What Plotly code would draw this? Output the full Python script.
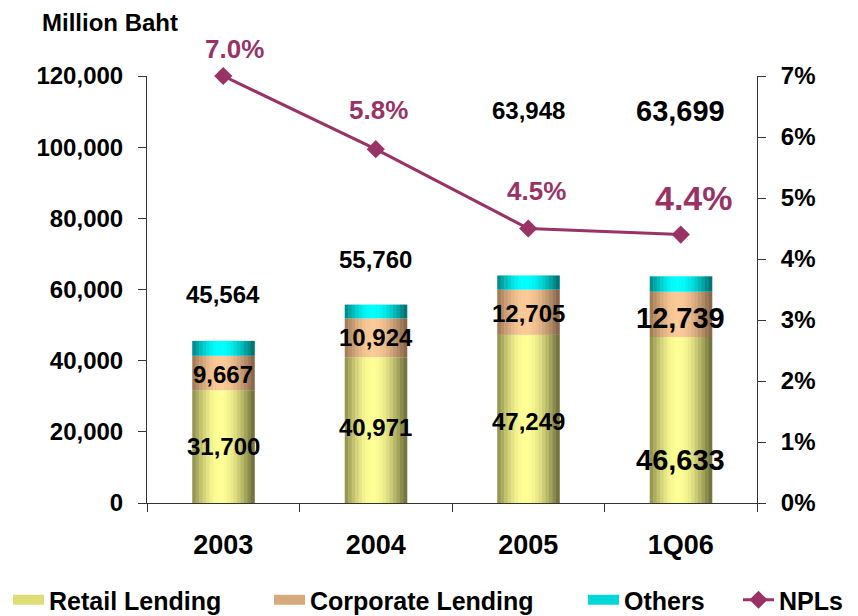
import math
import plotly.graph_objects as go

# ---------------- data ----------------
categories = ["2003", "2004", "2005", "1Q06"]
retail = [31700, 40971, 47249, 46633]
corporate = [9667, 10924, 12705, 12739]
totals = [45564, 55760, 63948, 63699]
npl = [0.070, 0.058, 0.045, 0.044]
others = [t - r - c for t, r, c in zip(totals, retail, corporate)]

retail_lbl_y = [15775, 21127, 22817, 12113]
corp_lbl_y = [36056, 46479, 53239, 52113]
total_lbl_y = [58592, 68450, 110423, 110140]
npl_lbl_y = [0.0700, 0.0644, 0.0511, 0.0500]
npl_lbl_dy = [27, 0, 0, 0]
npl_lbl_dx = [11, 3, 8, 13]
big = [False, False, False, True]

# ---------------- style ----------------
BAR_W = 0.407
N_STRIPS = 18
PEAK = 0.45
grad = {
    "Retail Lending": ((140, 140, 75), (255, 255, 150), (105, 105, 55), (222, 222, 120)),
    "Corporate Lending": ((155, 118, 82), (252, 202, 152), (130, 97, 70), (215, 170, 125)),
    "Others": ((0, 130, 130), (0, 255, 255), (0, 105, 105), (0, 215, 215)),
}
NPL_COLOR = "#993366"
FONT = "Liberation Sans, Arial, sans-serif"
OFF = 8  # page offset of the figure in the browser


def strip_color(edge_l, peak, edge_r, t):
    if t < PEAK:
        s = math.sin(math.pi / 2 * t / PEAK)
        e = edge_l
    else:
        s = math.sin(math.pi / 2 * (1 - t) / (1 - PEAK))
        e = edge_r
    c = [round(e[k] + (peak[k] - e[k]) * s) for k in range(3)]
    return "rgb(%d,%d,%d)" % tuple(c)


fig = go.Figure()

segments = [
    ("Retail Lending", retail, [0] * 4),
    ("Corporate Lending", corporate, retail),
    ("Others", others, [r + c for r, c in zip(retail, corporate)]),
]
w = BAR_W / N_STRIPS
for name, vals, bases in segments:
    el, pk, er, _ = grad[name]
    for i in range(N_STRIPS):
        t = (i + 0.5) / N_STRIPS
        fig.add_trace(go.Bar(
            x=categories, y=vals, base=bases,
            width=w * 1.15, offset=-BAR_W / 2 + i * w,
            marker=dict(color=strip_color(el, pk, er, t), line=dict(width=0)),
            showlegend=False, hoverinfo="skip",
        ))

# legend entries (one per legend box so they can be placed like the original)
legend_ids = ["legend", "legend2", "legend3"]
for (name, _, _), lid in zip(segments, legend_ids):
    fig.add_trace(go.Scatter(
        x=[None], y=[None], mode="lines", name=name,
        line=dict(color="rgb(%d,%d,%d)" % grad[name][3], width=15),
        legend=lid,
    ))

fig.add_trace(go.Scatter(
    x=categories, y=npl, yaxis="y2", mode="lines+markers", name="NPLs",
    line=dict(color=NPL_COLOR, width=3),
    marker=dict(symbol="diamond", size=14, color=NPL_COLOR),
    legend="legend4", cliponaxis=False,
))

ann = []
for i, cat in enumerate(categories):
    fs = 29 if big[i] else 24
    for val, yy in ((retail[i], retail_lbl_y[i]), (corporate[i], corp_lbl_y[i]), (totals[i], total_lbl_y[i])):
        ann.append(dict(x=i, y=yy, xref="x", yref="y", text=f"{val:,}", showarrow=False,
                        font=dict(family=FONT, size=fs, color="black", weight="bold")))
    ann.append(dict(x=i, y=npl_lbl_y[i], xref="x", yref="y2", text=f"{npl[i]*100:.1f}%",
                    showarrow=False, xshift=npl_lbl_dx[i], yshift=npl_lbl_dy[i],
                    font=dict(family=FONT, size=34 if big[i] else 26, color=NPL_COLOR, weight="bold")))

L, T, R, B = 147 - OFF, 76 - OFF, 858 - 757 + OFF, 616 - 503 + OFF
PW, PH = 858 - L - R, 616 - T - B
ann.append(dict(x=(40 - OFF - L) / PW, y=(616 - B - (22 - OFF)) / PH, xref="paper", yref="paper",
                xanchor="left", yanchor="middle", text="Million Baht", showarrow=False,
                font=dict(family=FONT, size=24, color="black", weight="bold")))

leg_common = dict(orientation="h", yanchor="middle", y=1 - (600 - OFF) / 616,
                  xref="container", yref="container",
                  bgcolor="rgba(0,0,0,0)", borderwidth=0, itemwidth=31,
                  font=dict(family=FONT, size=25, color="black", weight="bold"))

axis_line = "#333333"
fig.update_layout(
    width=858, height=616,
    margin=dict(l=L, r=R, t=T, b=B, autoexpand=False),
    paper_bgcolor="white", plot_bgcolor="white",
    barmode="overlay",
    annotations=ann,
    legend=dict(x=-5 / 858, xanchor="left", **leg_common),
    legend2=dict(x=261 / 858, xanchor="left", **leg_common),
    legend3=dict(x=575 / 858, xanchor="left", **leg_common),
    legend4=dict(x=730 / 858, xanchor="left", **leg_common),
    xaxis=dict(type="category", range=[-0.5, 3.5], tickson="boundaries", ticks="outside",
               ticklen=8, tickcolor=axis_line, showline=True, linecolor=axis_line, linewidth=1,
               showgrid=False, ticklabelstandoff=18,
               tickfont=dict(family=FONT, size=27, color="black", weight="bold")),
    yaxis=dict(range=[0, 120000], dtick=20000, tickformat=",", ticks="outside", ticklen=8,
               tickcolor=axis_line, showline=True, linecolor=axis_line, linewidth=1,
               showgrid=False, zeroline=False, ticklabelstandoff=10,
               tickfont=dict(family=FONT, size=24, color="black", weight="bold")),
    yaxis2=dict(range=[0, 0.07], dtick=0.01, tickformat=".0%", side="right", overlaying="y",
                ticks="outside", ticklen=8, tickcolor=axis_line, showline=True,
                linecolor=axis_line, linewidth=1, showgrid=False, zeroline=False,
                ticklabelstandoff=10,
                tickfont=dict(family=FONT, size=24, color="black", weight="bold")),
    # inner half of the crossing tick marks on the right axis
    yaxis3=dict(range=[0, 0.07], dtick=0.01, side="right", overlaying="y",
                ticks="inside", ticklen=8, tickcolor=axis_line, showline=False,
                showgrid=False, zeroline=False, showticklabels=False),
)

fig.write_html("out.html")
